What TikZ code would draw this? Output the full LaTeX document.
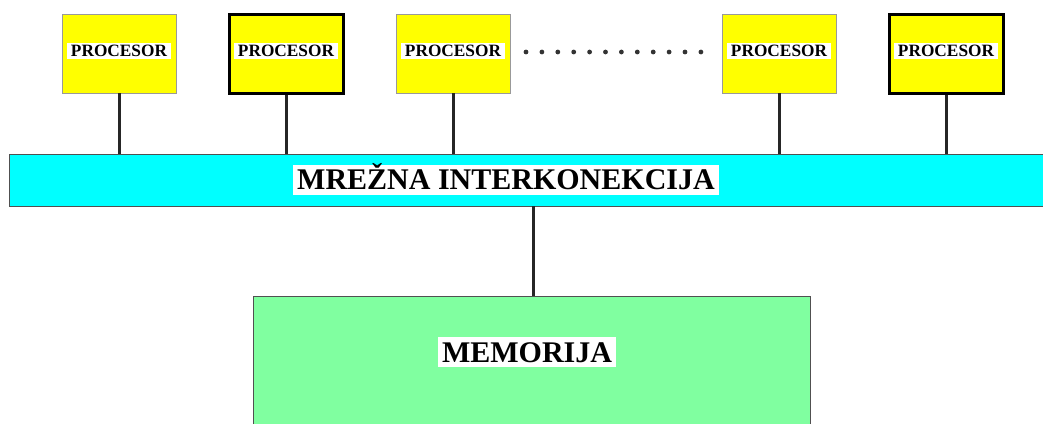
\documentclass[tikz,border=0pt]{standalone}
\usepackage{fontspec}
\setmainfont{Liberation Serif}
\usepackage{tikz}
\usetikzlibrary{positioning}
\definecolor{procyellow}{RGB}{255,255,0}
\definecolor{buscyan}{RGB}{0,255,255}
\definecolor{memgreen}{RGB}{128,255,160}
\definecolor{edgegray}{RGB}{80,80,80}

\begin{document}
\begin{tikzpicture}[x=1pt, y=-1pt, node distance=167pt,
    proc/.style={draw=gray!80, line width=0.8pt, fill=procyellow, minimum width=114pt, minimum height=79pt, inner sep=0pt},
    procthick/.style={proc, draw=black, line width=3pt},
    proclabel/.style={fill=white, font=\fontsize{17.3}{18}\selectfont\bfseries, inner xsep=3.5pt, inner ysep=2pt, text height=11.5pt, text depth=0pt},
    biglabel/.style={fill=white, font=\fontsize{30}{32}\selectfont\bfseries, inner xsep=4pt, inner ysep=5pt, text height=20pt, text depth=0pt},
    bus/.style={draw=edgegray, line width=0.8pt, fill=buscyan, minimum width=1042pt, minimum height=52pt, inner sep=0pt},
    mem/.style={draw=edgegray, line width=0.8pt, fill=memgreen, minimum width=557pt, minimum height=160pt, inner sep=0pt},
    link/.style={line width=3pt, black!85}]
    \path[use as bounding box, clip] (0,0) rectangle (1043,423);

    \node[proc] (P1) at (119,53.5) {};
    \node[procthick] (P2) [right of=P1] {};
    \node[proc] (P3) [right of=P2] {};
    \node[proc] (P4) [right of=P3, xshift=159pt] {};
    \node[procthick] (P5) [right of=P4] {};

    \node[proclabel] (L1) at ([yshift=2.5pt]P1.center) {PROCESOR};
    \node[proclabel] (L2) at ([yshift=2.5pt]P2.center) {PROCESOR};
    \node[proclabel] (L3) at ([yshift=2.5pt]P3.center) {PROCESOR};
    \node[proclabel] (L4) at ([yshift=2.5pt]P4.center) {PROCESOR};
    \node[proclabel] (L5) at ([yshift=2.5pt]P5.center) {PROCESOR};

    % dots between the processors
    \foreach \i in {0,...,11}
        \fill[black!80] (526+\i*15.9,52) circle (2.4pt);

    \node[bus] (bus) at (530,180) {};
    \node[biglabel] (buslabel) at (506,179.5) {MREŽNA INTERKONEKCIJA};

    \node[mem] (mem) at (531.5,376) {};
    \node[biglabel] (memlabel) at (527,352) {MEMORIJA};

    \draw[link] (P1.south) -- (P1.south |- bus.north);
    \draw[link] (P2.south) -- (P2.south |- bus.north);
    \draw[link] (P3.south) -- (P3.south |- bus.north);
    \draw[link] (P4.south) -- (P4.south |- bus.north);
    \draw[link] (P5.south) -- (P5.south |- bus.north);
    \draw[link] ([xshift=1.5pt]mem.north) -- ([xshift=1.5pt]mem.north |- bus.south);
\end{tikzpicture}
\end{document}
